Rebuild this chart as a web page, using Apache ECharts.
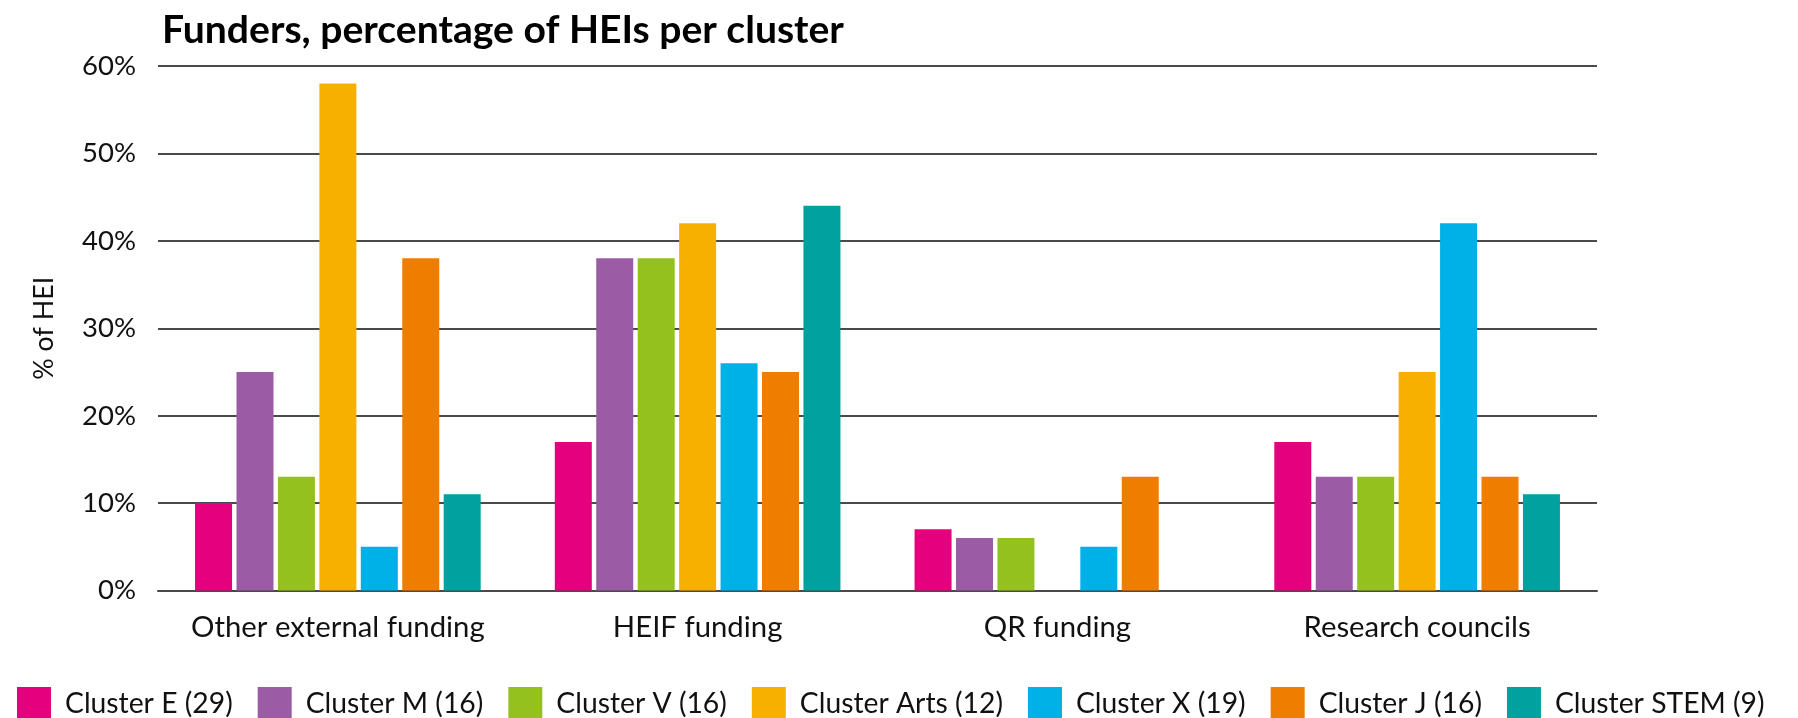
<!DOCTYPE html>
<html>
<head>
<meta charset="utf-8">
<script src="https://cdn.jsdelivr.net/npm/echarts@6/dist/echarts.min.js"></script>
<style>
html,body{margin:0;padding:0;background:#fff;}
#chart{width:1798px;height:718px;}
</style>
</head>
<body>
<div id="chart"></div>
<script>
// ---- data ----
var categories = ['Other external funding', 'HEIF funding', 'QR funding', 'Research councils'];
var seriesNames = ['Cluster E (29)', 'Cluster M (16)', 'Cluster V (16)', 'Cluster Arts (12)', 'Cluster X (19)', 'Cluster J (16)', 'Cluster STEM (9)'];
var clusterE    = [10, 17, 7, 17];
var clusterM    = [25, 38, 6, 13];
var clusterV    = [13, 38, 6, 13];
var clusterArts = [58, 42, 0, 25];
var clusterX    = [5, 26, 5, 42];
var clusterJ    = [38, 25, 13, 13];
var clusterSTEM = [11, 44, 0, 11];
var yTicks = [0, 10, 20, 30, 40, 50, 60];

// ---- styles ----
var colors = ['#E5007D', '#9B5BA5', '#95C11F', '#F8B000', '#00B1E7', '#EE7D00', '#00A19F'];
var FAMILY = 'Lato';

function fit(text, weight, target) {
  var c = document.createElement('canvas').getContext('2d');
  c.font = weight + ' 100px ' + FAMILY;
  return Math.round(100 * target / c.measureText(text).width * 10) / 10;
}
var titleSize = fit('Funders, percentage of HEIs per cluster', 'bold', 683);
var catSize = fit('Other external funding', 'normal', 294);
var legSize = fit('Cluster E (29)', 'normal', 168);
var ySize = fit('60%', 'normal', 54);
var nameSize = fit('% of HEI', 'normal', 103);

var allValues = [clusterE, clusterM, clusterV, clusterArts, clusterX, clusterJ, clusterSTEM];

var chart = echarts.init(document.getElementById('chart'));
var gridLine = '#4a4a4a';
chart.setOption({
  animation: false,
  backgroundColor: '#fff',
  title: {
    text: 'Funders, percentage of HEIs per cluster',
    left: 157, top: 6,
    textStyle: { fontFamily: FAMILY, fontWeight: 'bold', fontSize: titleSize, color: '#000' }
  },
  legend: {
    data: seriesNames,
    left: 12, top: 682,
    icon: 'rect', itemWidth: 34, itemHeight: 34, itemGap: 25,
    textStyle: { fontFamily: FAMILY, fontSize: legSize, color: '#111', padding: [0, 0, 0, 9] }
  },
  grid: { left: 158, right: 201, top: 66, bottom: 127.5, containLabel: false },
  xAxis: {
    type: 'category', data: categories,
    axisLine: { show: true, lineStyle: { color: gridLine, width: 2 } },
    axisTick: { show: false },
    axisLabel: { interval: 0, fontFamily: FAMILY, fontSize: catSize, color: '#111', margin: 22, lineHeight: catSize }
  },
  yAxis: {
    type: 'value', min: yTicks[0], max: yTicks[yTicks.length - 1], interval: 10,
    name: '% of HEI', nameLocation: 'middle', nameGap: 100,
    nameTextStyle: { fontFamily: FAMILY, fontSize: nameSize, color: '#111' },
    axisLine: { show: false }, axisTick: { show: false },
    axisLabel: { formatter: '{value}%', fontFamily: FAMILY, fontSize: ySize, color: '#111', margin: 22 },
    splitLine: { lineStyle: { color: gridLine, width: 2 } }
  },
  series: seriesNames.map(function (n, i) {
    return {
      name: n, type: 'bar', data: allValues[i],
      barWidth: 37, barGap: '12%',
      itemStyle: { color: colors[i] }
    };
  })
});
</script>
</body>
</html>
